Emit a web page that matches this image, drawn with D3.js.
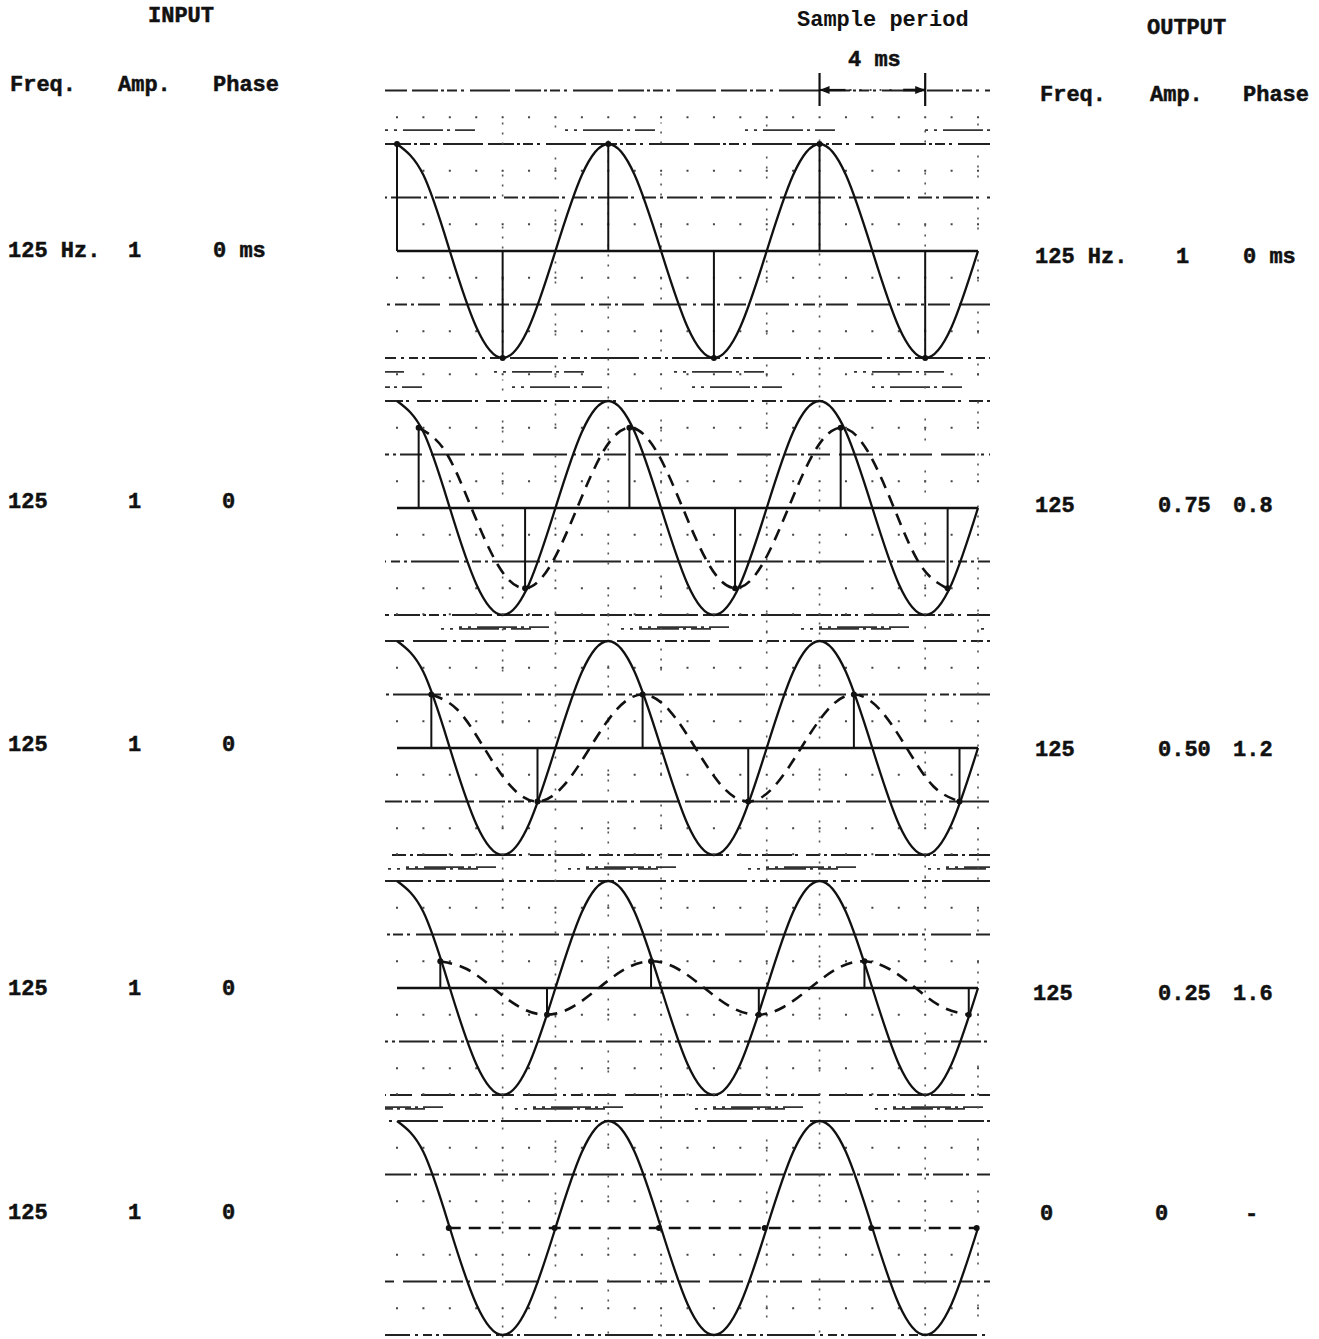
<!DOCTYPE html>
<html>
<head>
<meta charset="utf-8">
<script src="https://cdn.jsdelivr.net/npm/d3@7"></script>
<style>
  body { margin: 0; background: #fff; }
  text { font-family: "Liberation Mono", "DejaVu Sans Mono", monospace; font-weight: bold; font-size: 22px; fill: #111; stroke: #111; stroke-width: 0.5px; }
</style>
</head>
<body>
<div id="chart"></div>
<script>
// input wave, every 1 ms (amplitude 1 = peak)
var waveT = [0,1,2,3,4,5,6,7,8,9,10,11,12,13,14,15,16,17,18,19,20,21,22];
var waveV = [1,0.71,0,-0.71,-1,-0.71,0,0.71,1,0.71,0,-0.71,-1,-0.71,0,0.71,1,0.71,0,-0.71,-1,-0.71,0];

// table labels
var inFreq   = ["125 Hz.", "125", "125", "125", "125"];
var inAmp    = ["1", "1", "1", "1", "1"];
var inPhase  = ["0 ms", "0", "0", "0", "0"];
var outFreq  = ["125 Hz.", "125", "125", "125", "0"];
var outAmp   = ["1", "0.75", "0.50", "0.25", "0"];
var outPhase = ["0 ms", "0.8", "1.2", "1.6", "-"];
var outAmpValue = [1, 0.75, 0.5, 0.25, 0];

// sample instants (ms) read from the sticks / dots of each row
var samples1 = [0, 4, 8, 12, 16, 20];
var samples2 = [0.82, 4.85, 8.8, 12.8, 16.8, 20.85];
var samples3 = [1.3, 5.32, 9.3, 13.3, 17.3, 21.3];
var samples4 = [1.64, 5.68, 9.62, 13.7, 17.7, 21.65];
var samples5 = [1.96, 5.97, 9.92, 13.92, 17.96, 21.95];
var sampleSign = [1, -1, 1, -1, 1, -1];
var samples = [samples1, samples2, samples3, samples4, samples5];

// layout
var width = 1319, height = 1339;
var rowCenter = [251, 508, 748, 988, 1228];
var halfH = 107;
var ink = "#111";

var x = d3.scaleLinear().domain([0, 22]).range([397, 978]);

var svg = d3.select("#chart")
  .append("svg")
    .attr("width", width)
    .attr("height", height)
    .style("background", "#fff");

var line = d3.line().curve(d3.curveNatural);

// ---- headers ----
svg.append("text").attr("x", 148).attr("y", 22).text("INPUT");
svg.append("text").attr("x", 10).attr("y", 91).text("Freq.");
svg.append("text").attr("x", 118).attr("y", 91).text("Amp.");
svg.append("text").attr("x", 213).attr("y", 91).text("Phase");

svg.append("text").attr("x", 1147).attr("y", 34).text("OUTPUT");
svg.append("text").attr("x", 1040).attr("y", 101).text("Freq.");
svg.append("text").attr("x", 1150).attr("y", 101).text("Amp.");
svg.append("text").attr("x", 1243).attr("y", 101).text("Phase");

svg.append("text").attr("x", 797).attr("y", 26).style("stroke-width", 0).text("Sample period");
svg.append("text").attr("x", 848).attr("y", 66).text("4 ms");

// ---- per-row labels ----
var inPhaseX  = [213, 222, 222, 222, 222];
var outFreqX  = [1035, 1035, 1035, 1033, 1040];
var outAmpX   = [1176, 1158, 1158, 1158, 1155];
var outPhaseX = [1243, 1233, 1233, 1233, 1245];
var labelDy   = [6, 0, 3, 7, -9];
var outDy     = [12, 4, 8, 12, -8];

rowCenter.forEach(function(cy, i) {
  svg.append("text").attr("x", 8).attr("y", cy + labelDy[i]).text(inFreq[i]);
  svg.append("text").attr("x", 128).attr("y", cy + labelDy[i]).text(inAmp[i]);
  svg.append("text").attr("x", inPhaseX[i]).attr("y", cy + labelDy[i]).text(inPhase[i]);
  svg.append("text").attr("x", outFreqX[i]).attr("y", cy + outDy[i]).text(outFreq[i]);
  svg.append("text").attr("x", outAmpX[i]).attr("y", cy + outDy[i]).text(outAmp[i]);
  svg.append("text").attr("x", outPhaseX[i]).attr("y", cy + outDy[i]).text(outPhase[i]);
});

// ---- rows ----
var gridLevels = [1, 0.5, -0.5, -1];
var outerLevels = [1.13, -1.13];
var dotLevels = [1.25, 0.75, 0.25, -0.25, -0.75];
var gridDash = ["26,3,3,3,10,4,3,6,40,5", "14,4,3,4,30,3,3,8", "34,6,3,5,12,4,3,4,22,9", "9,4,3,4,48,5,3,5"];
var vTimes = [4, 6, 8, 10, 14, 16, 20, 22];

rowCenter.forEach(function(cy, i) {
  var y = d3.scaleLinear().domain([-1, 1]).range([cy + halfH, cy - halfH]);
  var g = svg.append("g");

  // graph-paper background
  var grid = g.append("g").attr("class", "grid");
  var levels = gridLevels.slice();
  if (i === 0) levels.push(1.5);
  levels.forEach(function(lv, k) {
    grid.append("line")
      .attr("x1", 385).attr("x2", 990)
      .attr("y1", y(lv)).attr("y2", y(lv))
      .attr("stroke", "#222").attr("stroke-width", 1.9)
      .attr("stroke-dasharray", gridDash[(i + k) % gridDash.length])
      .attr("stroke-dashoffset", i * 37 + k * 19);
  });
  outerLevels.forEach(function(lv, k) {
    grid.append("line")
      .attr("x1", 385).attr("x2", 990)
      .attr("y1", y(lv)).attr("y2", y(lv))
      .attr("stroke", "#333").attr("stroke-width", 1.6)
      .attr("stroke-dasharray", "3,6,3,6,40,4,3,5,20,90")
      .attr("stroke-dashoffset", i * 53 + k * 71);
  });
  dotLevels.forEach(function(lv) {
    grid.append("line")
      .attr("x1", x(0) - 1).attr("x2", 992)
      .attr("y1", y(lv)).attr("y2", y(lv))
      .attr("stroke", "#444").attr("stroke-width", 1.8)
      .attr("stroke-dasharray", "2," + (x(1) - x(0) - 2).toFixed(2));
  });
  vTimes.forEach(function(t, k) {
    grid.append("line")
      .attr("x1", x(t)).attr("x2", x(t))
      .attr("y1", y(1.2)).attr("y2", y(-1.2))
      .attr("stroke", "#555").attr("stroke-width", 1.6)
      .attr("stroke-dasharray", "2,8,2,8,2,30")
      .attr("stroke-dashoffset", (k * 17 + i * 11) % 50);
  });

  // zero line (row 5 only shows the dashed output)
  if (i < 4) {
    g.append("line")
      .attr("x1", x(0)).attr("x2", x(22))
      .attr("y1", y(0)).attr("y2", y(0))
      .attr("stroke", ink).attr("stroke-width", 2.4);
  }

  // input wave
  g.append("path")
    .attr("d", line(waveT.map(function(t, k) { return [x(t), y(waveV[k])]; })))
    .attr("fill", "none")
    .attr("stroke", ink)
    .attr("stroke-width", 2.3);

  var amp = outAmpValue[i];
  var s = samples[i];

  // sample sticks
  s.forEach(function(t, k) {
    g.append("line")
      .attr("x1", x(t)).attr("x2", x(t))
      .attr("y1", y(0)).attr("y2", y(amp * sampleSign[k]))
      .attr("stroke", ink).attr("stroke-width", 2);
  });

  // aliased output wave (dashed), same shape shifted to the first sample
  if (i > 0) {
    var t0 = s[0];
    var pts = [];
    waveT.forEach(function(t, k) {
      if (t0 + t <= s[s.length - 1] + 0.05) pts.push([x(t0 + t), y(amp * waveV[k])]);
    });
    g.append("path")
      .attr("d", line(pts))
      .attr("fill", "none")
      .attr("stroke", ink)
      .attr("stroke-width", 2.6)
      .attr("stroke-dasharray", "12,8");
  }

  // sample dots
  g.selectAll("circle")
    .data(s)
    .join("circle")
      .attr("cx", function(t) { return x(t); })
      .attr("cy", function(t, k) { return y(amp * sampleSign[k]); })
      .attr("r", 3)
      .attr("fill", ink);
});

// ---- sample period dimension ----
var xa = x(16), xb = x(20), ya = 90;
[xa, xb].forEach(function(xx) {
  svg.append("line")
    .attr("x1", xx).attr("x2", xx).attr("y1", 73).attr("y2", 106)
    .attr("stroke", ink).attr("stroke-width", 2.2);
});
svg.append("line").attr("x1", xa).attr("x2", xa + 26).attr("y1", ya).attr("y2", ya)
  .attr("stroke", ink).attr("stroke-width", 2.2);
svg.append("line").attr("x1", xa + 30).attr("x2", xb - 26).attr("y1", ya).attr("y2", ya)
  .attr("stroke", ink).attr("stroke-width", 1.6).attr("stroke-dasharray", "2,8");
svg.append("line").attr("x1", xb - 22).attr("x2", xb).attr("y1", ya).attr("y2", ya)
  .attr("stroke", ink).attr("stroke-width", 2.6);
svg.append("path")
  .attr("d", "M" + xa + "," + ya + "l10,-4l0,8z")
  .attr("fill", ink);
svg.append("path")
  .attr("d", "M" + xb + "," + ya + "l-10,-4l0,8z")
  .attr("fill", ink);
</script>
</body>
</html>
